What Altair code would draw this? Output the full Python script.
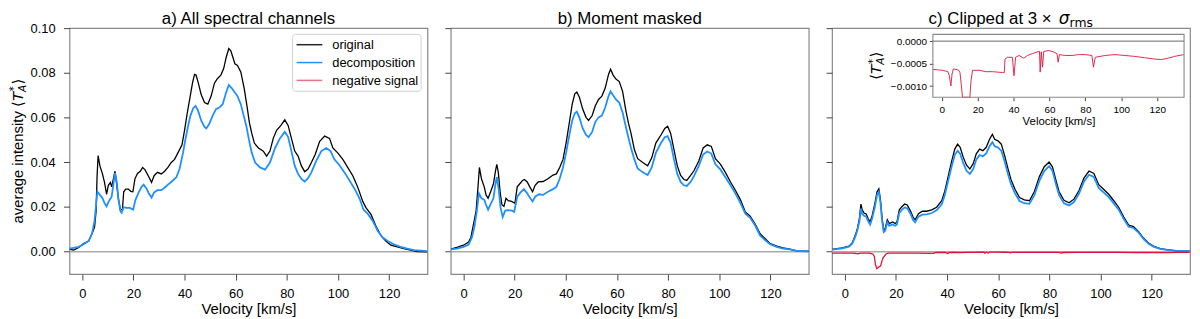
import altair as alt
import pandas as pd

# ---------------- data ----------------
VEL_TICKS = [0, 20, 40, 60, 80, 100, 120]
INT_TICKS = [0.0, 0.02, 0.04, 0.06, 0.08, 0.10]
INSET_TICKS = [0.0, -0.0005, -0.0010]
LEGEND_LABELS = ["original", "decomposition", "negative signal"]

# panel a: all spectral channels  (velocity km/s, average intensity)
A_ORIGINAL = [(-5, 0.0012), (-3.4, 0.0007), (-1.4, 0.0019), (0.5, 0.0036), (1.5, 0.0042), (2.5, 0.0048),
              (3.8, 0.008), (4.8, 0.011), (5.4, 0.018), (5.8, 0.034), (6.2, 0.043), (6.9, 0.0384),
              (7.9, 0.0348), (8.7, 0.031), (9.5, 0.0257), (10.2, 0.0297), (11, 0.031), (11.5, 0.029),
              (12.3, 0.0333), (12.8, 0.036), (13.2, 0.0326), (14.1, 0.024), (14.9, 0.0188), (15.7, 0.0188),
              (16.2, 0.0268), (17, 0.028), (18, 0.028), (19, 0.027), (19.8, 0.0268), (20.6, 0.0326),
              (21.6, 0.035), (22.7, 0.036), (23.6, 0.0377), (24.5, 0.0367), (25.8, 0.034), (27.1, 0.031),
              (28.1, 0.034), (29.4, 0.0355), (30.9, 0.0348), (32.2, 0.036), (33.5, 0.0377), (34.8, 0.0399),
              (36.1, 0.0413), (37.4, 0.0442), (39, 0.0478), (40, 0.0543), (41, 0.0616), (42.1, 0.0688),
              (43.1, 0.0754), (43.9, 0.0793), (44.5, 0.079), (45.4, 0.0754), (46.5, 0.0703), (47.8, 0.0667),
              (49.1, 0.066), (50.4, 0.0696), (51.7, 0.0754), (52.9, 0.0775), (54.2, 0.079), (55.3, 0.0819),
              (56.3, 0.087), (57.3, 0.0909), (58.1, 0.0899), (58.9, 0.087), (59.7, 0.084), (60.7, 0.0833),
              (62, 0.0804), (63.3, 0.0732), (64.3, 0.066), (65.4, 0.0575), (66.3, 0.0529), (67.3, 0.0486),
              (68.9, 0.0464), (70.8, 0.045), (72.1, 0.0428), (73.4, 0.045), (74.7, 0.0507), (76, 0.0543),
              (77.7, 0.0565), (79.2, 0.059), (80.5, 0.0565), (81.8, 0.0507), (83.1, 0.045), (84.4, 0.0428),
              (85.7, 0.0384), (87, 0.0358), (88.3, 0.037), (89.6, 0.0399), (91.1, 0.0435), (92.8, 0.0493),
              (94.8, 0.0517), (96.7, 0.0507), (98, 0.0464), (99.9, 0.0442), (101.9, 0.0413), (103.8, 0.0377),
              (105.8, 0.034), (107.7, 0.029), (109.7, 0.0225), (111, 0.0196), (112.9, 0.0167), (114.8, 0.0116),
              (116.8, 0.0072), (118.7, 0.0048), (120.7, 0.0029), (123.2, 0.0022), (125.8, 0.0014),
              (128.4, 0.0007), (131, 0.0), (135, -0.0001)]
A_DECOMP = [(-5, 0.0014), (-1.4, 0.0022), (0.5, 0.0033), (2.5, 0.0048), (3.8, 0.008), (4.8, 0.0138),
            (5.4, 0.021), (5.9, 0.0268), (6.9, 0.0254), (7.9, 0.0239), (8.7, 0.0217), (9.5, 0.0203),
            (10.5, 0.0228), (11.5, 0.0246), (12.3, 0.0312), (12.8, 0.0352), (13.5, 0.0312), (14.1, 0.0239),
            (14.9, 0.0181), (15.4, 0.0174), (16.2, 0.0199), (17.3, 0.0196), (18.6, 0.0196), (19.9, 0.0188),
            (20.8, 0.0232), (21.9, 0.0261), (23.2, 0.029), (24, 0.030), (25.1, 0.0283), (26, 0.0261),
            (27.1, 0.0242), (28.1, 0.0265), (29.4, 0.0275), (30.9, 0.0275), (32.2, 0.0286), (33.5, 0.030),
            (34.8, 0.0312), (36.8, 0.0333), (38.1, 0.0372), (39.4, 0.0442), (40.3, 0.05), (41.3, 0.0558),
            (42.3, 0.0609), (43.4, 0.0642), (44.3, 0.0652), (45.2, 0.0633), (46.5, 0.0587), (47.8, 0.0558),
            (48.5, 0.0551), (49.7, 0.0572), (51, 0.0609), (52.3, 0.0638), (53.6, 0.0645), (54.9, 0.066),
            (56.2, 0.071), (57.3, 0.0746), (58.4, 0.0732), (59.4, 0.0717), (60.7, 0.0696), (62, 0.066),
            (63.3, 0.0601), (64.2, 0.056), (65.2, 0.05), (66.3, 0.0442), (67.6, 0.0399), (69.5, 0.0377),
            (71.5, 0.0367), (73.4, 0.0399), (75.4, 0.0464), (77.3, 0.0507), (79.2, 0.0536), (80.5, 0.0514),
            (81.8, 0.045), (83.1, 0.0384), (84.4, 0.0348), (85.7, 0.0326), (87, 0.0314), (88.3, 0.0329),
            (89.6, 0.0355), (91.5, 0.0406), (93.5, 0.045), (95.4, 0.0464), (97.1, 0.045), (98.6, 0.0413),
            (100.6, 0.0387), (102.5, 0.0355), (104.5, 0.0319), (106.4, 0.0283), (108.4, 0.0239), (110, 0.0188),
            (111.6, 0.017), (113.6, 0.0138), (115.5, 0.0094), (117.4, 0.0065), (119.4, 0.0048), (122, 0.0032),
            (124.5, 0.0022), (127.1, 0.0014), (129.7, 0.0007), (135, 0.0003)]

# panel b: moment masked
B_ORIGINAL = [(-5, 0.0012), (-2.6, 0.0019), (0, 0.0029), (2, 0.0043), (2.9, 0.0065), (3.9, 0.0123),
              (4.9, 0.0181), (5.7, 0.0297), (6.2, 0.0377), (7, 0.0326), (8.1, 0.029), (8.8, 0.0254),
              (9.6, 0.0239), (10.6, 0.0268), (11.7, 0.0304), (12.5, 0.0362), (13, 0.0391), (13.6, 0.0355),
              (14.3, 0.0268), (15, 0.021), (15.8, 0.0203), (16.6, 0.0239), (17.5, 0.0228), (18.8, 0.0225),
              (20.1, 0.0217), (21, 0.029), (22, 0.0304), (23.1, 0.0319), (23.8, 0.0323), (24.9, 0.0312),
              (25.9, 0.029), (27, 0.0268), (28, 0.0297), (29.2, 0.0312), (31.1, 0.0314), (33, 0.0326),
              (35, 0.0343), (36.3, 0.0348), (37.6, 0.0377), (38.9, 0.0413), (40.1, 0.0486), (41.5, 0.0587),
              (42.5, 0.066), (43.5, 0.0706), (44.3, 0.0714), (45.3, 0.0691), (46.6, 0.0638), (47.9, 0.0601),
              (48.9, 0.0587), (50.3, 0.0609), (51.5, 0.0652), (52.8, 0.0681), (54.1, 0.0696), (55.4, 0.0732),
              (56.7, 0.0793), (57.5, 0.0816), (58.5, 0.079), (59.6, 0.0772), (60.9, 0.0761), (62.2, 0.0717),
              (63.5, 0.063), (64.5, 0.0575), (65.5, 0.0529), (66.8, 0.0457), (68.1, 0.0416), (70.1, 0.0399),
              (72, 0.0384), (73.6, 0.042), (75.2, 0.0486), (77.2, 0.0522), (78.7, 0.0551), (79.8, 0.0561),
              (81, 0.0529), (82.3, 0.0457), (83.6, 0.0384), (84.9, 0.0341), (86.2, 0.0323), (87.3, 0.0319),
              (88.8, 0.0341), (90.1, 0.0362), (92, 0.0406), (93.7, 0.0464), (95.3, 0.0478), (96.9, 0.0471),
              (98.5, 0.0416), (100.5, 0.0391), (102.4, 0.0355), (104.4, 0.0312), (106.3, 0.0275),
              (108.3, 0.0232), (110.2, 0.0178), (112.1, 0.0159), (114.1, 0.0123), (116, 0.008), (118, 0.0058),
              (119.9, 0.0036), (122.5, 0.0025), (125, 0.0017), (127.6, 0.0012), (130.3, 0.0004), (135, 0.0002)]
B_DECOMP = [(-5, 0.001), (-2.6, 0.0014), (0, 0.0022), (2, 0.0032), (3.3, 0.0065), (4.2, 0.0109),
            (5.2, 0.0181), (6, 0.0261), (7, 0.0239), (8.1, 0.0232), (8.8, 0.021), (9.6, 0.0188),
            (10.6, 0.0213), (11.7, 0.0239), (12.5, 0.0304), (13, 0.0333), (13.7, 0.0283), (14.5, 0.0196),
            (15.3, 0.0155), (16.3, 0.0184), (17.5, 0.0186), (18.8, 0.0184), (19.8, 0.0178), (21, 0.0246),
            (22.3, 0.0265), (23.6, 0.028), (24.9, 0.0261), (25.9, 0.0242), (27, 0.0225), (28, 0.0246),
            (29.5, 0.0257), (31.1, 0.0254), (33, 0.0268), (35, 0.028), (36.3, 0.029), (37.6, 0.0326),
            (38.9, 0.0377), (40.1, 0.0442), (41.5, 0.0529), (42.5, 0.0587), (43.5, 0.0619), (44.3, 0.0626),
            (45.3, 0.0601), (46.6, 0.0551), (47.9, 0.0522), (48.9, 0.0512), (50.3, 0.0536), (51.5, 0.058),
            (52.8, 0.0601), (54.1, 0.0609), (55.4, 0.0645), (56.7, 0.0696), (57.5, 0.0717), (58.5, 0.07),
            (59.6, 0.0681), (60.9, 0.0667), (62.2, 0.0623), (63.5, 0.0558), (64.5, 0.051), (65.5, 0.0464),
            (66.8, 0.0413), (68.1, 0.0372), (70.1, 0.0355), (72, 0.0343), (73.6, 0.0377), (75.2, 0.0442),
            (77.2, 0.0486), (78.7, 0.0512), (79.8, 0.0517), (81, 0.0486), (82.3, 0.0413), (83.6, 0.0348),
            (84.9, 0.0312), (86.2, 0.0297), (87.3, 0.0294), (88.8, 0.0312), (90.1, 0.0338), (92, 0.0384),
            (93.7, 0.0435), (95.3, 0.0448), (96.9, 0.0439), (98.5, 0.0391), (100.5, 0.0367), (102.4, 0.0333),
            (104.4, 0.0297), (106.3, 0.0261), (108.3, 0.0217), (110.2, 0.017), (112.1, 0.0152),
            (114.1, 0.0116), (116, 0.0072), (118, 0.0051), (119.9, 0.0033), (122.5, 0.0022), (125, 0.0014),
            (127.6, 0.001), (130.3, 0.0004), (135, 0.0001)]

# panel c: clipped at 3 sigma_rms
C_ORIGINAL = [(-5, 0.001), (-1, 0.0017), (1.6, 0.0025), (2.9, 0.0039), (3.9, 0.0068), (4.8, 0.0097),
              (5.7, 0.0148), (6.3, 0.0213), (6.8, 0.0187), (7.6, 0.0172), (8.3, 0.017), (9.1, 0.0148),
              (9.9, 0.0133), (10.7, 0.0162), (11.7, 0.0213), (12.6, 0.0268), (13.3, 0.0281), (13.9, 0.0235),
              (14.6, 0.0148), (15.2, 0.0097), (15.8, 0.0104), (16.6, 0.0143), (17.4, 0.0126), (18.7, 0.0133),
              (19.7, 0.0126), (20.4, 0.0133), (21.3, 0.0187), (22.3, 0.0201), (23.4, 0.0213), (24.4, 0.0209),
              (25.6, 0.0184), (26.8, 0.0152), (27.5, 0.0143), (28.8, 0.017), (30.3, 0.0181), (32, 0.0181),
              (34, 0.0187), (35.9, 0.0199), (37.9, 0.0228), (39.1, 0.0271), (40.4, 0.0336), (41.7, 0.0401),
              (43, 0.0459), (44.1, 0.0481), (45.1, 0.0467), (46.3, 0.0423), (47.6, 0.0387), (48.9, 0.037),
              (50.2, 0.0394), (51.4, 0.0438), (52.7, 0.0459), (54, 0.0452), (55.3, 0.0467), (56.6, 0.0503),
              (57.7, 0.0525), (58.6, 0.0503), (59.9, 0.0496), (61.2, 0.0481), (62.5, 0.043), (63.8, 0.0372),
              (65, 0.0322), (66.6, 0.0278), (68.3, 0.0242), (70.2, 0.0232), (72.2, 0.0228), (74.1, 0.0268),
              (76.1, 0.0336), (78, 0.038), (79.9, 0.0401), (81.2, 0.038), (82.5, 0.0322), (83.8, 0.0268),
              (85.7, 0.023), (87.7, 0.0219), (89.6, 0.0235), (91.6, 0.0274), (93.5, 0.0329), (95.5, 0.0361),
              (97.4, 0.035), (99.3, 0.03), (101.3, 0.0278), (103.2, 0.0257), (105.2, 0.0228), (107.1, 0.0199),
              (109.1, 0.0155), (111, 0.0119), (112.9, 0.0112), (114.9, 0.009), (116.8, 0.0061),
              (118.8, 0.0039), (120.7, 0.0025), (123.3, 0.0014), (125.9, 0.0009), (129.8, 0.0004), (135, 0.0003)]
C_DECOMP = [(-5, 0.0009), (-1, 0.0015), (1.6, 0.0023), (2.9, 0.0036), (3.9, 0.0062), (4.8, 0.009),
            (5.7, 0.0135), (6.3, 0.0193), (6.8, 0.017), (7.6, 0.016), (8.3, 0.0158), (9.1, 0.0137),
            (9.9, 0.0121), (10.7, 0.015), (11.7, 0.0198), (12.6, 0.0253), (13.3, 0.0268), (13.9, 0.0222),
            (14.6, 0.0136), (15.2, 0.0088), (15.8, 0.0094), (16.6, 0.0132), (17.4, 0.0116), (18.7, 0.0122),
            (19.7, 0.0116), (20.4, 0.0122), (21.3, 0.0173), (22.3, 0.0187), (23.4, 0.0198), (24.4, 0.0194),
            (25.6, 0.0171), (26.8, 0.014), (27.5, 0.0132), (28.8, 0.0157), (30.3, 0.0166), (32, 0.0167),
            (34, 0.0173), (35.9, 0.0185), (37.9, 0.0212), (39.1, 0.0254), (40.4, 0.0316), (41.7, 0.0378),
            (43, 0.0432), (44.1, 0.0452), (45.1, 0.0438), (46.3, 0.0397), (47.6, 0.0362), (48.9, 0.0348),
            (50.2, 0.037), (51.4, 0.0412), (52.7, 0.0432), (54, 0.0427), (55.3, 0.044), (56.6, 0.0472),
            (57.7, 0.049), (58.6, 0.0472), (59.9, 0.0466), (61.2, 0.0452), (62.5, 0.0403), (63.8, 0.0348),
            (65, 0.0302), (66.6, 0.026), (68.3, 0.0227), (70.2, 0.0217), (72.2, 0.0214), (74.1, 0.0252),
            (76.1, 0.0318), (78, 0.0361), (79.9, 0.0383), (81.2, 0.0362), (82.5, 0.0305), (83.8, 0.0253),
            (85.7, 0.0217), (87.7, 0.0207), (89.6, 0.0222), (91.6, 0.026), (93.5, 0.0313), (95.5, 0.0344),
            (97.4, 0.0334), (99.3, 0.0285), (101.3, 0.0264), (103.2, 0.0244), (105.2, 0.0216), (107.1, 0.0188),
            (109.1, 0.0146), (111, 0.0112), (112.9, 0.0106), (114.9, 0.0085), (116.8, 0.0057),
            (118.8, 0.0036), (120.7, 0.0023), (123.3, 0.0013), (125.9, 0.0008), (129.8, 0.0004), (135, 0.0003)]
C_NEGATIVE = [(-5, -0.00063), (-2, -0.00064), (0.5, -0.00065), (3.3, -0.00068), (4.2, -0.00077), (5, -0.001),
              (5.7, -0.00073), (6.4, -0.00062), (7.9, -0.00063), (9.4, -0.00065), (10.1, -0.0007),
              (10.9, -0.001), (11.5, -0.002), (12, -0.0058), (12.5, -0.0075), (13, -0.0072), (13.5, -0.0066),
              (14, -0.0064), (14.5, -0.0042), (15, -0.0026), (15.6, -0.0018), (16.2, -0.0009), (17.1, -0.00065),
              (20.8, -0.00065), (24.5, -0.00068), (28.2, -0.00068), (33.8, -0.0007), (34.8, -0.0007),
              (35.2, -0.0004), (36.5, -0.00036), (39.3, -0.00036), (40.2, -0.00077), (41.1, -0.00036),
              (43, -0.00032), (45.7, -0.00038), (47.6, -0.00032), (50.4, -0.00028), (53.1, -0.00024),
              (54.4, -0.00023), (54.8, -0.00069), (55.4, -0.00024), (56.1, -0.00058), (56.8, -0.00023),
              (59.6, -0.00021), (62.3, -0.00024), (64.2, -0.00028), (64.8, -0.00047), (65.5, -0.0003),
              (68.8, -0.00032), (72.5, -0.00032), (76.2, -0.0003), (79.9, -0.0003), (83.6, -0.00032),
              (84.5, -0.00058), (85.5, -0.00036), (91, -0.00032), (96.5, -0.0003), (102, -0.00032),
              (107.6, -0.00034), (113.1, -0.00037), (118.7, -0.0004), (122.4, -0.00041), (126.1, -0.00038),
              (129.7, -0.00034), (134.9, -0.0003)]

# ---------------- styling ----------------
FONT = "Liberation Sans"
MATH = "DejaVu Sans"
W, H = 361, 248
XDOM = [-5, 135]
YDOM = [-0.01, 0.1]
INSET_XDOM = [-5, 135]
INSET_YDOM = [-0.00125, 0.00015]
INSET_BOX = dict(left=101.7, right=355, top=6.3, bottom=69.7)  # panel-c pixel box of the inset
BLACK, BLUE, RED = "#000000", "#1E90FF", "#DC143C"

one = pd.DataFrame({"k": [0]})


def to_df(pairs, xname="v", yname="T"):
    return pd.DataFrame(pairs, columns=[xname, yname])


def x_axis():
    return alt.Axis(orient="bottom", values=VEL_TICKS, title="Velocity [km/s]", domain=False, grid=False,
                    tickSize=6, tickColor="#444444", labelFontSize=13, labelFont=FONT, labelColor="black",
                    labelBaseline="alphabetic", labelPadding=18, labelFlush=False, labelOverlap=False,
                    titleFont=FONT, titleFontSize=15, titleFontWeight="normal", titleColor="black",
                    titleY=40, titleBaseline="alphabetic")


def y_axis(labels):
    return alt.Axis(orient="left", values=INT_TICKS, format=".2f", title=None, domain=False, grid=False,
                    tickSize=6, tickColor="#444444", labels=labels, labelFontSize=13, labelFont=FONT,
                    labelColor="black", labelPadding=8.5, labelFlush=False, labelOverlap=False)


def xe(field="v:Q"):
    return alt.X(field, scale=alt.Scale(domain=XDOM, nice=False, zero=False), axis=x_axis())


def ye(labels, field="T:Q"):
    return alt.Y(field, scale=alt.Scale(domain=YDOM, nice=False, zero=False), axis=y_axis(labels))


def zero_rule(labels):
    return alt.Chart(pd.DataFrame({"T": [0.0]})).mark_rule(color="#aaaaaa", strokeWidth=1.5).encode(
        y=ye(labels))


def curve(pairs, color, width, labels, opacity=1.0):
    return alt.Chart(to_df(pairs)).mark_line(color=color, strokeWidth=width, opacity=opacity,
                                             clip=True, interpolate="linear").encode(x=xe(), y=ye(labels))


def txt(text, x, y, size, font=FONT, align="left", angle=0, style="normal", color="black"):
    return alt.Chart(one).mark_text(text=text, font=font, fontSize=size, align=align, baseline="alphabetic",
                                    angle=angle, fontStyle=style, color=color).encode(
        x=alt.value(x), y=alt.value(y))


TITLE_Y = -4

# ---------------- panel a ----------------
legend_box = alt.Chart(one).mark_rect(fill="white", stroke="#d0d0d0", strokeWidth=1, cornerRadius=3).encode(
    x=alt.value(225), x2=alt.value(354.6), y=alt.value(6.3), y2=alt.value(63.7))
legend_parts = [legend_box]
for i, (lab, col, op) in enumerate(zip(LEGEND_LABELS, [BLACK, BLUE, RED], [0.85, 1.0, 0.6])):
    yy = 16.7 + 18 * i
    legend_parts.append(alt.Chart(one).mark_rule(color=col, strokeWidth=1.5, opacity=op).encode(
        x=alt.value(229), x2=alt.value(255), y=alt.value(yy)))
    legend_parts.append(txt(lab, 265, yy + 4.5, 13))

YT_X = -47
ytitle = [
    txt("average intensity", YT_X, 197, 15, angle=270),
    txt("\u27e8", YT_X, 79.4, 15, font=MATH, angle=270),
    txt("T", YT_X, 73.5, 15, font=MATH, angle=270, style="italic"),
    txt("*", YT_X - 5.5, 63.8, 10.5, font=MATH, angle=270),
    txt("A", YT_X + 3, 64.3, 10.5, font=MATH, angle=270, style="italic"),
    txt("\u27e9", YT_X, 56.8, 15, font=MATH, angle=270),
]

panel_a = alt.layer(
    zero_rule(True),
    curve(A_ORIGINAL, BLACK, 1.3, True),
    curve(A_DECOMP, BLUE, 1.8, True),
    *legend_parts,
    txt("a) All spectral channels", W / 2, TITLE_Y, 17, align="center"),
    *ytitle,
).properties(width=W, height=H)

# ---------------- panel b ----------------
panel_b = alt.layer(
    zero_rule(False),
    curve(B_ORIGINAL, BLACK, 1.3, False),
    curve(B_DECOMP, BLUE, 1.8, False),
    txt("b) Moment masked", W / 2, TITLE_Y, 17, align="center"),
).properties(width=W, height=H)

# ---------------- panel c ----------------
main_c = alt.layer(
    zero_rule(False),
    curve(C_ORIGINAL, BLACK, 1.3, False),
    curve(C_DECOMP, BLUE, 1.8, False),
    curve(C_NEGATIVE, RED, 1.3, False),
    txt("c) Clipped at 3 \u00d7 ", 97.3, TITLE_Y, 17),
    txt("\u03c3", 228.5, TITLE_Y, 17, font=MATH, style="italic"),
    txt("rms", 239.5, TITLE_Y + 3, 12.5, font=MATH),
)

ix_scale = alt.Scale(domain=INSET_XDOM, range=[INSET_BOX["left"], INSET_BOX["right"]], nice=False, zero=False)
iy_scale = alt.Scale(domain=INSET_YDOM, range=[INSET_BOX["bottom"], INSET_BOX["top"]], nice=False, zero=False,
                     clamp=True)
ix_axis = alt.Axis(orient="bottom", offset=-(H - INSET_BOX["bottom"]), values=VEL_TICKS, title="Velocity [km/s]",
                   domain=False, grid=False, tickSize=3.5, tickColor="#444444", labelFontSize=10, labelFont=FONT,
                   labelColor="black", labelBaseline="alphabetic", labelPadding=11.8, labelFlush=False,
                   labelOverlap=False, titleFont=FONT, titleFontSize=11.5, titleFontWeight="normal",
                   titleColor="black", titleY=27.8, titleBaseline="alphabetic")
iy_axis = alt.Axis(orient="left", offset=-INSET_BOX["left"], values=INSET_TICKS, format=".4f", title=None,
                   domain=False, grid=False, tickSize=3.5, tickColor="#444444", labelFontSize=10, labelFont=FONT,
                   labelColor="black", labelPadding=3, labelFlush=False, labelOverlap=False)


def ixe(field):
    return alt.X(field, scale=ix_scale, axis=ix_axis)


def iye(field):
    return alt.Y(field, scale=iy_scale, axis=iy_axis)


inset_zero = alt.Chart(pd.DataFrame({"vi": [INSET_XDOM[0]], "vi2": [INSET_XDOM[1]], "Ti": [0.0]})).mark_rule(
    color="#555555", strokeWidth=0.9).encode(x=ixe("vi:Q"), x2="vi2", y=iye("Ti:Q"))
inset_line = alt.Chart(to_df(C_NEGATIVE, "vi", "Ti")).mark_line(color=RED, strokeWidth=0.9).encode(
    x=ixe("vi:Q"), y=iye("Ti:Q"))
inset_frame = alt.Chart(pd.DataFrame({"vi": [INSET_XDOM[0]], "vi2": [INSET_XDOM[1]],
                                      "Ti": [INSET_YDOM[0]], "Ti2": [INSET_YDOM[1]]})).mark_rect(
    fillOpacity=0, stroke="#888888", strokeWidth=1.1).encode(x=ixe("vi:Q"), x2="vi2", y=iye("Ti:Q"), y2="Ti2")

IT_X = 49.5
inset_ytitle = [
    txt("\u27e8", IT_X, 52, 15, font=MATH, angle=270),
    txt("T", IT_X, 46.2, 15, font=MATH, angle=270, style="italic"),
    txt("*", IT_X - 5.5, 36.5, 10.5, font=MATH, angle=270),
    txt("A", IT_X + 3, 37, 10.5, font=MATH, angle=270, style="italic"),
    txt("\u27e9", IT_X, 29.5, 15, font=MATH, angle=270),
]

inset = alt.layer(inset_zero, inset_line, inset_frame)

panel_c = alt.layer(main_c, inset, *inset_ytitle).resolve_scale(
    x="independent", y="independent").properties(width=W, height=H)

chart = alt.hconcat(panel_a, panel_b, panel_c, spacing=23.5, bounds="flush").properties(
    padding={"left": 0, "top": 0, "right": 0, "bottom": 0}
).configure_view(stroke="#888888", strokeWidth=1.2)

chart.save("out.html", embed_options={"renderer": "svg", "actions": False})
